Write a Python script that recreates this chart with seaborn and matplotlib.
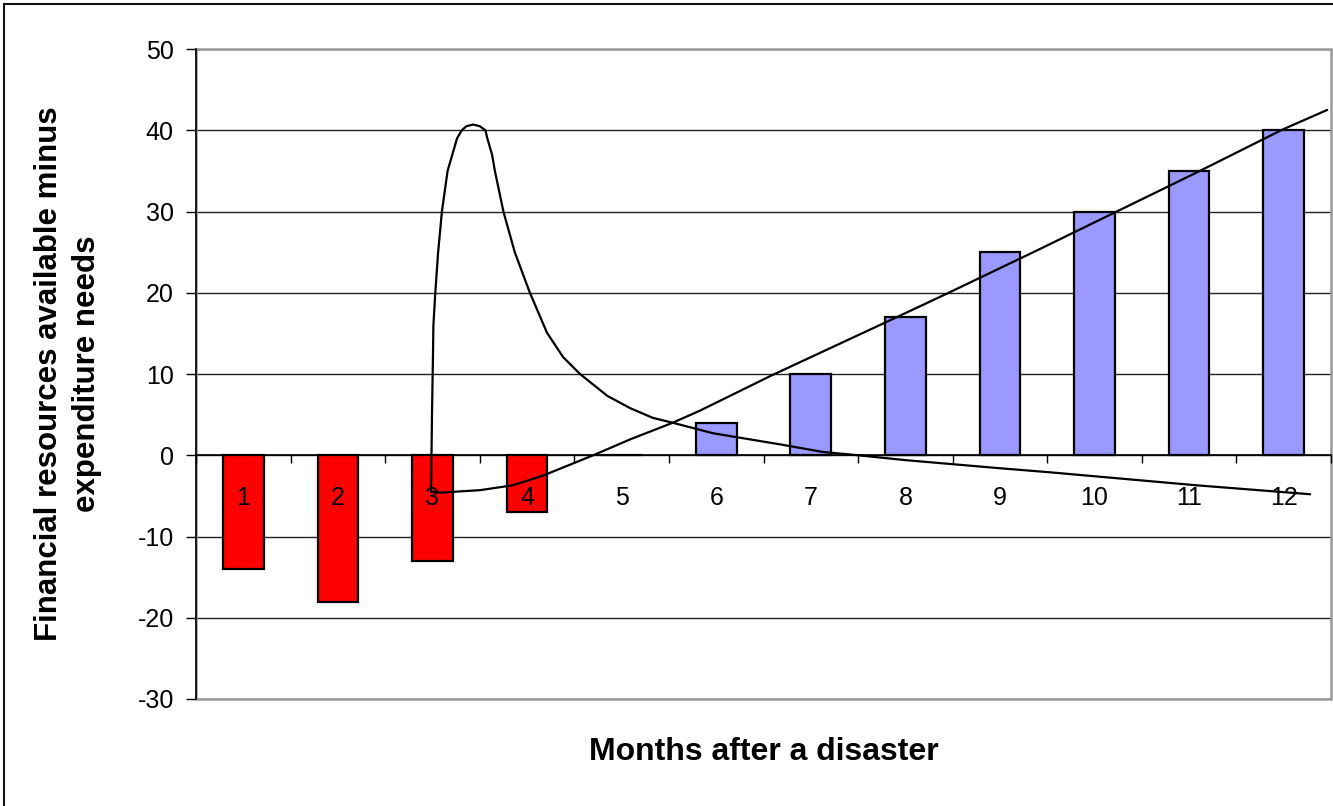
import matplotlib
matplotlib.use("Agg")
import matplotlib.pyplot as plt
import seaborn as sns
import pandas as pd
import numpy as np
from matplotlib.patches import Rectangle

sns.set_theme(style="white")
plt.rcParams['font.family'] = ['Liberation Sans', 'DejaVu Sans']
plt.rcParams.update({"text.color": "black", "axes.labelcolor": "black",
                     "xtick.color": "black", "ytick.color": "black"})

# ---- data ----
months = list(range(1, 13))
month_labels = [str(m) for m in months]
balance = [-14, -18, -13, -7, 0, 4, 10, 17, 25, 30, 35, 40]

# peaked curve: x in months, y in value units
peak_x = [2.985, 2.995, 3.005, 3.01, 3.03, 3.06, 3.10, 3.16, 3.21, 3.26,
          3.31, 3.36, 3.43, 3.50, 3.56, 3.58, 3.63, 3.66, 3.75, 3.87,
          4.03, 4.21, 4.38, 4.56, 4.85, 5.09, 5.33, 5.54, 5.97, 6.67,
          7.13, 7.50, 8.0, 9.0, 9.53, 11.08, 12.28]
peak_y = [-4.5, 5, 12, 16, 20, 25, 30, 35, 37, 39,
          40, 40.5, 40.7, 40.5, 40, 39, 37, 35, 30, 25,
          20, 15.1, 12.1, 10, 7.3, 5.8, 4.6, 4.0, 2.7, 1.35,
          0.4, 0.0, -0.6, -1.6, -2.1, -3.7, -4.8]

# rising curve
rise_x = [2.985, 3.1, 3.22, 3.5, 3.85, 4.17, 4.70, 5.1, 5.54, 5.83, 6.59,
          7.91, 8.44, 9.39, 10.20, 11.08, 11.99, 12.46]
rise_y = [-4.5, -4.6, -4.5, -4.3, -3.7, -2.5, 0.0, 2.0, 4.0, 5.5, 9.85,
          17, 19.9, 25.2, 29.8, 34.8, 40.1, 42.5]

y_ticks = [-30, -20, -10, 0, 10, 20, 30, 40, 50]

x_title = "Months after a disaster"
y_title = "Financial resources available minus\nexpenditure needs"

# ---- figure ----
W, H = 1333, 806
fig = plt.figure(figsize=(W / 100, H / 100), dpi=100)
ax = fig.add_axes([196 / W, 1 - 699 / H, (1331 - 196) / W, (699 - 49) / H])

df = pd.DataFrame({"month": months, "value": balance})
df["sign"] = np.where(df["value"] < 0, "neg", "pos")

sns.barplot(data=df, x="month", y="value", hue="sign",
            palette={"neg": "#FF0000", "pos": "#9999FF"}, saturation=1,
            native_scale=True, width=0.43, dodge=False, legend=False,
            edgecolor="black", linewidth=1.6, ax=ax, zorder=3)

sns.lineplot(x=peak_x, y=peak_y, sort=False, estimator=None,
             color="black", linewidth=1.6, ax=ax, zorder=6)
sns.lineplot(x=rise_x, y=rise_y, sort=False, estimator=None,
             color="black", linewidth=1.6, ax=ax, zorder=6)
for ln in ax.lines:
    ln.set_solid_joinstyle("round")

ax.set_xlim(0.5, 12.5)
ax.set_ylim(-30, 50)

# gridlines
ax.set_yticks(y_ticks)
ax.set_yticklabels([str(t) for t in y_ticks], fontsize=18)
ax.yaxis.grid(True, color="#222222", linewidth=1.0)
ax.xaxis.grid(False)
ax.set_axisbelow(True)

# x-axis at zero: ticks at category boundaries, labels at centres
ax.spines["bottom"].set_position(("data", 0))
ax.spines["bottom"].set_color("black")
ax.spines["bottom"].set_linewidth(1.2)
ax.spines["bottom"].set_zorder(2)
ax.set_xticks(np.arange(0.5, 12.6, 1.0))
ax.set_xticklabels([])
ax.set_xticks(months, minor=True)
ax.set_xticklabels(month_labels, minor=True, fontsize=18)
ax.tick_params(axis="x", which="major", direction="out", length=6,
               width=1.0, color="black", bottom=True)
ax.tick_params(axis="x", which="minor", length=0, pad=22, bottom=True)
ax.tick_params(axis="y", direction="out", length=7, width=1.0,
               color="black", left=True, pad=9)
ax.xaxis.set_zorder(5)

ax.spines["left"].set_color("black")
ax.spines["left"].set_linewidth(1.2)
for s in ["top", "right"]:
    ax.spines[s].set_visible(False)

# plot area border (gray) at top, right, bottom
ax.add_patch(Rectangle((0, 0), 1, 1, transform=ax.transAxes, fill=False,
                       edgecolor="#999999", linewidth=1.8, zorder=1,
                       clip_on=False))
ax.spines["left"].set_zorder(5)

ax.set_xlabel(x_title, fontsize=23, fontweight="bold")
ax.xaxis.set_label_coords(0.5, -0.0815)
ax.xaxis.label.set_va("center")
ax.set_ylabel(y_title, fontsize=22.5, fontweight="bold", linespacing=1.35)
ax.yaxis.set_label_coords(-0.113, 0.5)
ax.yaxis.label.set_va("center")

# outer chart border (left and top visible)
fig.patches.append(Rectangle((4 / W, -0.1), 1.2, 1 - 4 / H + 0.1,
                             transform=fig.transFigure, fill=False,
                             edgecolor="#111111", linewidth=1.5))

fig.savefig("out.png", dpi=100, facecolor="white")
